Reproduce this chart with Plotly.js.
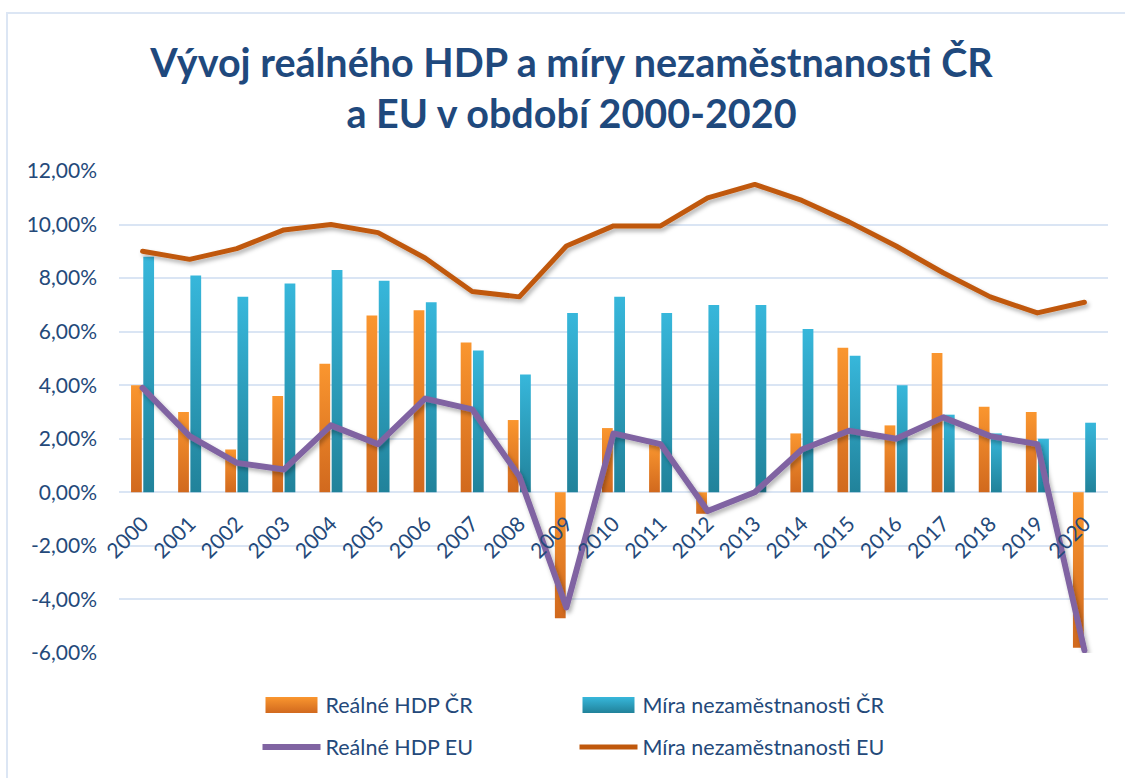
<!DOCTYPE html>
<html>
<head>
<meta charset="utf-8">
<script src="https://cdn.plot.ly/plotly-3.0.1.min.js"></script>
<style>
  html, body { margin: 0; padding: 0; background: #fff; }
  #chart { width: 1125px; height: 778px; }
  #frame { position: absolute; left: 6px; top: 12px; width: 1130px; height: 780px;
           border-left: 2px solid #DCE6F4; border-top: 2px solid #DCE6F4; pointer-events: none; }
</style>
</head>
<body>
<div id="chart"></div>
<div id="frame"></div>
<script>
const years = ['2000','2001','2002','2003','2004','2005','2006','2007','2008','2009','2010',
               '2011','2012','2013','2014','2015','2016','2017','2018','2019','2020'];
const hdpCR = [4.0, 3.0, 1.6, 3.6, 4.8, 6.6, 6.8, 5.6, 2.7, -4.7, 2.4,
               1.8, -0.8, 0.0, 2.2, 5.4, 2.5, 5.2, 3.2, 3.0, -5.8];
const nezamCR = [8.8, 8.1, 7.3, 7.8, 8.3, 7.9, 7.1, 5.3, 4.4, 6.7, 7.3,
                 6.7, 7.0, 7.0, 6.1, 5.1, 4.0, 2.9, 2.2, 2.0, 2.6];
const hdpEU = [3.9, 2.1, 1.1, 0.85, 2.5, 1.8, 3.5, 3.1, 0.6, -4.3, 2.2,
               1.8, -0.7, 0.0, 1.6, 2.3, 2.0, 2.8, 2.1, 1.8, -5.9];
const nezamEU = [9.0, 8.7, 9.1, 9.8, 10.0, 9.7, 8.75, 7.5, 7.3, 9.2, 9.95,
                 9.95, 11.0, 11.5, 10.9, 10.1, 9.2, 8.2, 7.3, 6.7, 7.1];
const yTickVals = [-6, -4, -2, 0, 2, 4, 6, 8, 10, 12];
const yTickText = ['-6,00%', '-4,00%', '-2,00%', '0,00%', '2,00%', '4,00%', '6,00%', '8,00%', '10,00%', '12,00%'];

const txt = '#24497A';
const fontFam = 'Lato, "Open Sans", sans-serif';
const orangeFlat = '#E8812A', tealFlat = '#2E9DBB';

const traces = [
  { type: 'bar', name: 'Reálné HDP ČR', x: years, y: hdpCR,
    marker: { color: orangeFlat }, legend: 'legend' },
  { type: 'bar', name: 'Míra nezaměstnanosti ČR', x: years, y: nezamCR,
    marker: { color: tealFlat }, legend: 'legend2' },
  { type: 'scatter', mode: 'lines', name: 'Reálné HDP EU', x: years, y: hdpEU,
    line: { color: '#8064A2', width: 6 }, legend: 'legend3' },
  { type: 'scatter', mode: 'lines', name: 'Míra nezaměstnanosti EU', x: years, y: nezamEU,
    line: { color: '#C0580C', width: 5 }, legend: 'legend4' }
];

function leg(x, y) {
  return {
    orientation: 'h', xref: 'container', yref: 'container', xanchor: 'left', yanchor: 'middle',
    x: x, y: y, itemwidth: 58,
    font: { family: fontFam, size: 21.5, color: txt }, bgcolor: 'rgba(0,0,0,0)'
  };
}
const col1 = 257.5 / 1125, col2 = 574.5 / 1125;
const row1 = 1 - 705 / 778, row2 = 1 - 747 / 778;

const layout = {
  width: 1125, height: 778,
  margin: { l: 119, r: 17, t: 171, b: 125 },
  paper_bgcolor: '#ffffff', plot_bgcolor: '#ffffff',
  title: {
    text: '<b>Vývoj reálného HDP a míry nezaměstnanosti ČR<br>a EU v období 2000-2020</b>',
    font: { family: fontFam, size: 39.5, color: '#1F497D' },
    x: 0.508, xanchor: 'center', xref: 'container',
    y: 0.9014, yanchor: 'middle', yref: 'container'
  },
  barmode: 'group', bargap: 0.48, bargroupgap: 0.12,
  xaxis: {
    type: 'category', anchor: 'free', position: 1/3,
    showgrid: false, showline: false, ticks: '', tickangle: -45, ticklabelstandoff: 14,
    tickfont: { family: fontFam, size: 21, color: txt }, fixedrange: true
  },
  yaxis: {
    range: [-6, 12], tickvals: yTickVals, ticktext: yTickText,
    showgrid: true, gridcolor: '#DAE5F4', gridwidth: 2, zeroline: false,
    showline: false, ticks: '', ticklabelstandoff: 21,
    tickfont: { family: fontFam, size: 21, color: txt }, fixedrange: true
  },
  legend: leg(col1, row1),
  legend2: leg(col2, row1),
  legend3: leg(col1, row2),
  legend4: leg(col2, row2),
  showlegend: true
};

function decorate(gd) {
  const svg = gd.querySelector('.main-svg');
  const ns = 'http://www.w3.org/2000/svg';
  let defs = svg.querySelector('defs');
  if (!defs) { defs = document.createElementNS(ns, 'defs'); svg.insertBefore(defs, svg.firstChild); }
  function grad(id, c1, c2) {
    if (svg.querySelector('#' + id)) return;
    const g = document.createElementNS(ns, 'linearGradient');
    g.setAttribute('id', id); g.setAttribute('x1', '0'); g.setAttribute('y1', '0');
    g.setAttribute('x2', '0'); g.setAttribute('y2', '1');
    [[0, c1], [1, c2]].forEach(function (s) {
      const st = document.createElementNS(ns, 'stop');
      st.setAttribute('offset', s[0]); st.setAttribute('stop-color', s[1]);
      g.appendChild(st);
    });
    defs.appendChild(g);
  }
  grad('gOrange', '#FA962F', '#D1691E');
  grad('gTeal', '#37B7DB', '#21829A');
  if (!svg.querySelector('#lineShadow')) {
    const f = document.createElementNS(ns, 'filter');
    f.setAttribute('id', 'lineShadow');
    f.setAttribute('x', '-5%'); f.setAttribute('y', '-20%');
    f.setAttribute('width', '110%'); f.setAttribute('height', '140%');
    const ds = document.createElementNS(ns, 'feDropShadow');
    ds.setAttribute('dx', '2'); ds.setAttribute('dy', '3');
    ds.setAttribute('stdDeviation', '2'); ds.setAttribute('flood-color', '#000');
    ds.setAttribute('flood-opacity', '0.3');
    f.appendChild(ds);
    defs.appendChild(f);
  }
  const ids = ['gOrange', 'gTeal'];
  gd.querySelectorAll('.barlayer .trace.bars').forEach(function (t, i) {
    t.querySelectorAll('.point path').forEach(function (p) { p.style.fill = 'url(#' + ids[i] + ')'; });
  });
  gd.querySelectorAll('.scatterlayer .trace .js-line').forEach(function (p) {
    p.setAttribute('filter', 'url(#lineShadow)');
    p.style.strokeLinejoin = 'round';
    p.style.strokeLinecap = 'round';
  });
  const orangeRGB = 'rgb(232, 129, 42)', tealRGB = 'rgb(46, 157, 187)';
  gd.querySelectorAll('.legendpoints path').forEach(function (p) {
    const fl = p.style.fill;
    if (fl === orangeRGB || fl === tealRGB) {
      p.setAttribute('d', 'M26,8H-26V-8H26Z');
      p.style.stroke = 'none';
      p.style.fill = 'url(#' + (fl === orangeRGB ? 'gOrange' : 'gTeal') + ')';
    }
  });
}

Plotly.newPlot('chart', traces, layout, { displayModeBar: false, staticPlot: true }).then(function (gd) {
  decorate(gd);
  setTimeout(function () { decorate(gd); }, 50);
});
</script>
</body>
</html>
